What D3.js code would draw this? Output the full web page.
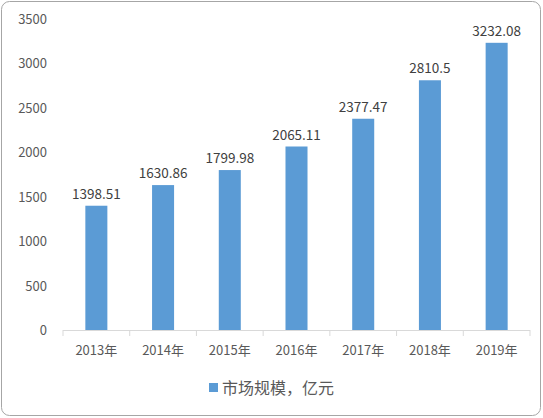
<!DOCTYPE html>
<html><head><meta charset="utf-8">
<script src="https://cdn.jsdelivr.net/npm/d3@7"></script>
<style>body{margin:0;background:#fff}</style>
</head><body>
<script>
const years = ["2013年","2014年","2015年","2016年","2017年","2018年","2019年"];
const values = [1398.51,1630.86,1799.98,2065.11,2377.47,2810.5,3232.08];
const labels = ["1398.51","1630.86","1799.98","2065.11","2377.47","2810.5","3232.08"];
const yTicks = [0,500,1000,1500,2000,2500,3000,3500];

const svg = d3.select("body").append("svg").attr("width",543).attr("height",418);
svg.append("rect").attr("x",1.5).attr("y",1.5).attr("width",539).attr("height",414)
  .attr("rx",8).attr("fill","#fff").attr("stroke","#a6a6a6");

const font = "'Noto Sans CJK SC', 'DejaVu Sans', sans-serif";
const x = d3.scaleBand().domain(years).range([63,530]).paddingInner(0.67).paddingOuter(0.335);
const y = d3.scaleLinear().domain([0,3500]).range([330,19]);

svg.selectAll(".yl").data(yTicks).enter().append("text")
  .attr("x",47).attr("y",d=>y(d)+5).attr("text-anchor","end")
  .attr("font-size",13).attr("font-family",font).attr("fill","#595959").text(d=>d);

svg.selectAll(".bar").data(values).enter().append("rect")
  .attr("x",(d,i)=>x(years[i])).attr("y",d=>y(d))
  .attr("width",x.bandwidth()).attr("height",d=>330-y(d)).attr("fill","#5b9bd5");

svg.selectAll(".vl").data(values).enter().append("text")
  .attr("x",(d,i)=>x(years[i])+x.bandwidth()/2).attr("y",d=>y(d)-7)
  .attr("text-anchor","middle").attr("font-size",13.5).attr("font-family",font)
  .attr("fill","#404040").text((d,i)=>labels[i]);

// x axis
svg.append("line").attr("x1",63).attr("x2",530).attr("y1",330.5).attr("y2",330.5).attr("stroke","#d9d9d9");
d3.range(8).forEach(i=>{
  const xx = 63 + i*(467/7);
  svg.append("line").attr("x1",xx).attr("x2",xx).attr("y1",330).attr("y2",336).attr("stroke","#d9d9d9");
});
svg.selectAll(".xl").data(years).enter().append("text")
  .attr("x",d=>x(d)+x.bandwidth()/2).attr("y",355).attr("text-anchor","middle")
  .attr("font-size",13).attr("font-family",font).attr("fill","#595959").text(d=>d);

// legend
svg.append("rect").attr("x",209).attr("y",383).attr("width",9).attr("height",9).attr("fill","#5b9bd5");
svg.append("text").attr("x",222).attr("y",394).attr("font-size",16).attr("font-family",font)
  .attr("fill","#595959").text("市场规模，亿元");
</script>
</body></html>
